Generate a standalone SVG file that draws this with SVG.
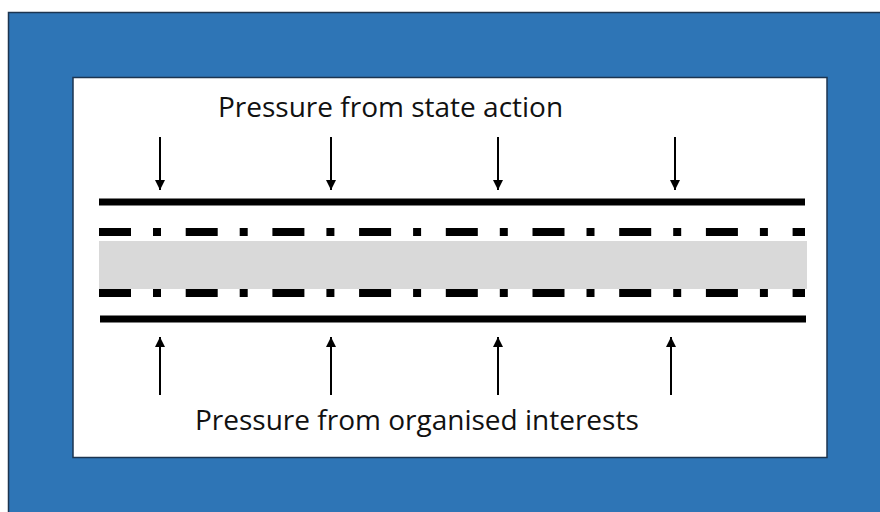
<svg xmlns="http://www.w3.org/2000/svg" width="880" height="512" viewBox="0 0 880 512">
  <defs>
    <style>
      .frame { fill: #2E75B6; stroke: #1C3550; stroke-width: 1.5; }
      .panel { fill: #FFFFFF; stroke: #1C3550; stroke-width: 1.5; }
      .wall { stroke: #000; stroke-width: 7; fill: none; }
      .seam { stroke: #000; stroke-width: 8; fill: none; stroke-dasharray: 32 22 8 24.7; }
      .core { fill: #D9D9D9; }
      .push { stroke: #000; stroke-width: 2; fill: none; marker-end: url(#head); }
      .label { font-family: "Open Sans", "Noto Sans", sans-serif; font-size: 28px; fill: #111; }
    </style>
    <marker id="head" viewBox="0 0 10 10" refX="10" refY="5" markerWidth="10" markerHeight="10" markerUnits="userSpaceOnUse" orient="auto">
      <path d="M0,0 L10,5 L0,10 Z" fill="#000"/>
    </marker>
  </defs>

  <!-- outer blue frame -->
  <rect class="frame" x="8.5" y="12.5" width="880" height="510"/>
  <!-- white panel -->
  <rect class="panel" x="73" y="77.5" width="754" height="380"/>

  <!-- channel: grey core between dash-dot seams, with solid walls outside -->
  <g id="channel">
    <rect class="core" x="99" y="241" width="708" height="48"/>
    <line class="wall" x1="99" y1="202" x2="805" y2="202"/>
    <line class="seam" x1="99" y1="232" x2="805" y2="232"/>
    <line class="seam" x1="99" y1="293" x2="805" y2="293"/>
    <line class="wall" x1="100" y1="319" x2="806" y2="319"/>
  </g>

  <g id="state-label">
    <text class="label" x="218" y="117">Pressure from state action</text>
  </g>
  <g id="interests-label">
    <text class="label" x="195" y="430">Pressure from organised interests</text>
  </g>

  <g id="connectors">
    <!-- downward pressure -->
    <line class="push" x1="160" y1="137" x2="160" y2="190"/>
    <line class="push" x1="331" y1="137" x2="331" y2="190"/>
    <line class="push" x1="498" y1="137" x2="498" y2="190"/>
    <line class="push" x1="675" y1="137" x2="675" y2="190"/>
    <!-- upward pressure -->
    <line class="push" x1="160" y1="395" x2="160" y2="337"/>
    <line class="push" x1="331" y1="395" x2="331" y2="337"/>
    <line class="push" x1="498" y1="395" x2="498" y2="337"/>
    <line class="push" x1="671" y1="395" x2="671" y2="337"/>
  </g>
</svg>
